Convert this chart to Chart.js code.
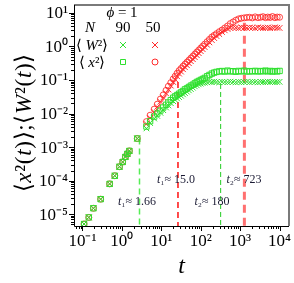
<!DOCTYPE html>
<html>
<head>
<meta charset="utf-8">
<script src="https://cdn.jsdelivr.net/npm/chart.js@4.4.1/dist/chart.umd.min.js"></script>
<style>
html, body { margin: 0; padding: 0; background: #fff; }
#wrap { width: 294px; height: 283px; position: relative; }
</style>
</head>
<body>
<div id="wrap"><canvas id="c"></canvas></div>
<script>
// time points (shared by all four series)
const times = [0.11, 0.145, 0.19, 0.29, 0.49, 0.66, 0.87, 1.05, 1.23, 1.38, 1.55, 2.46,
  4.2, 5.2, 6.6, 7.9, 9.5, 11.2, 13.2, 15.1, 17.4, 20, 22.4, 25.1, 28.2, 31.6, 35.5, 39.8,
  44.7, 50.1, 56.2, 63.1, 70.8, 79.4, 89.1, 100, 112, 126, 145, 166, 191, 219, 251, 295,
  347, 407, 479, 562, 661, 776, 912, 1070, 1260, 1480, 1740, 2040, 2400, 2820, 3310, 3800,
  4370, 5010, 5750, 6610, 7590, 8710, 10000];

// <W^2>, N = 90
const w2N90 = [5.1e-6, 8e-6, 1.5e-5, 2.8e-5, 8e-5, 1.4e-4, 2.6e-4, 3.6e-4, 5.1e-4, 6.3e-4, 7.7e-4, 1.8e-3,
  0.0036, 0.0052, 0.0071, 0.0085, 0.0105, 0.0126, 0.0151, 0.0174, 0.0204, 0.0234, 0.0257, 0.0282,
  0.0309, 0.0339, 0.0372, 0.0407, 0.0447, 0.049, 0.0537, 0.0589, 0.0646, 0.0692, 0.0741, 0.0776,
  0.0813, 0.0832, 0.085, 0.088, 0.086, 0.089, 0.087, 0.085, 0.088, 0.087, 0.086, 0.089, 0.087,
  0.085, 0.088, 0.086, 0.087, 0.089, 0.086, 0.088, 0.087, 0.085, 0.088, 0.087, 0.086, 0.089,
  0.087, 0.088, 0.086, 0.087, 0.088];
// <x^2>, N = 90
const x2N90 = [5.1e-6, 8e-6, 1.5e-5, 2.8e-5, 8e-5, 1.4e-4, 2.6e-4, 3.6e-4, 5.1e-4, 6.3e-4, 7.7e-4, 1.8e-3,
  0.0041, 0.0059, 0.0081, 0.0100, 0.0123, 0.0151, 0.0182, 0.0214, 0.0251, 0.0295, 0.0324, 0.0355,
  0.0389, 0.0427, 0.0468, 0.0525, 0.0562, 0.0617, 0.0676, 0.0724, 0.0794, 0.0871, 0.0933, 0.100,
  0.107, 0.115, 0.129, 0.141, 0.155, 0.166, 0.174, 0.18, 0.185, 0.178, 0.19, 0.18, 0.183, 0.176,
  0.186, 0.18, 0.19, 0.178, 0.184, 0.18, 0.187, 0.179, 0.185, 0.181, 0.19, 0.18, 0.186, 0.178,
  0.184, 0.18, 0.186];
// <W^2>, N = 50
const w2N50 = [5.1e-6, 8e-6, 1.5e-5, 2.8e-5, 8e-5, 1.4e-4, 2.6e-4, 3.6e-4, 5.1e-4, 6.3e-4, 7.7e-4, 1.8e-3,
  0.0049, 0.0074, 0.0112, 0.0158, 0.0224, 0.030, 0.040, 0.052, 0.068, 0.087, 0.105, 0.129,
  0.155, 0.178, 0.209, 0.24, 0.275, 0.316, 0.363, 0.417, 0.479, 0.55, 0.63, 0.724, 0.83, 0.955,
  1.12, 1.32, 1.55, 1.78, 2.04, 2.34, 2.69, 3.02, 3.31, 3.55, 3.63, 3.6, 3.5, 3.7, 3.6, 3.55,
  3.65, 3.6, 3.5, 3.7, 3.6, 3.55, 3.6, 3.65, 3.5, 3.6, 3.7, 3.6, 3.55];
// <x^2>, N = 50
const x2N50 = [5.1e-6, 8e-6, 1.5e-5, 2.8e-5, 8e-5, 1.4e-4, 2.6e-4, 3.6e-4, 5.1e-4, 6.3e-4, 7.7e-4, 1.8e-3,
  0.00575, 0.0089, 0.0135, 0.019, 0.027, 0.036, 0.049, 0.065, 0.083, 0.107, 0.129, 0.158,
  0.19, 0.219, 0.257, 0.295, 0.339, 0.389, 0.447, 0.513, 0.589, 0.676, 0.776, 0.891, 1.02, 1.17,
  1.38, 1.62, 1.91, 2.14, 2.40, 2.75, 3.09, 3.55, 4.07, 4.79, 5.37, 6.03, 6.61, 6.92, 7.1, 7.3,
  7.4, 7.1, 7.6, 7.2, 7.4, 7.7, 7.2, 7.5, 7.3, 7.8, 7.2, 7.5, 7.4];

// crossover times (vertical dashed markers)
const markTimes = [2.8, 26.5, 320, 1280];
const markTops = [0.0018, 0.087, 0.076, 5.1];
const markLabels = ['1.66', '15.0', '180', '723'];

const xTicks = [0.1, 1, 10, 100, 1000, 10000];
const xTickLabels = ['10⁻¹', '10⁰', '10¹', '10²', '10³', '10⁴'];
const yTicks = [1e-5, 1e-4, 1e-3, 1e-2, 1e-1, 1, 10];
const yTickLabels = ['10⁻⁵', '10⁻⁴', '10⁻³', '10⁻²', '10⁻¹', '10⁰', '10¹'];

const GREEN = '#2fe02f';
const RED = '#ff2a2a';
const SERIF = '"Liberation Serif", "Times New Roman", serif';

function pts(arr) { return times.map((t, i) => ({ x: t, y: arr[i] })); }

const Y_MIN = 4.44e-6;

function markLine(i, color, width, dash) {
  return {
    type: 'line', data: [{ x: markTimes[i], y: markTops[i] }, { x: markTimes[i], y: Y_MIN }],
    borderColor: color, borderWidth: width, borderDash: dash, pointRadius: 0, fill: false
  };
}

// draw a string made of [text, italic] pieces
function rich(ctx, parts, x, y, size, color, spacing, align) {
  spacing = spacing || 0;
  const fontOf = it => (it ? 'italic ' : '') + size + 'px ' + SERIF;
  let w = 0;
  parts.forEach(p => { ctx.font = fontOf(p[1]); w += ctx.measureText(p[0]).width; });
  w += spacing * (parts.length - 1);
  let cx = align === 'right' ? x - w : x - w / 2;
  ctx.fillStyle = color;
  ctx.textBaseline = 'middle';
  ctx.textAlign = 'left';
  parts.forEach(p => {
    ctx.font = fontOf(p[1]);
    ctx.fillText(p[0], cx, y);
    cx += ctx.measureText(p[0]).width + spacing;
  });
}

const deco = {
  id: 'deco',
  afterDraw(chart) {
    const { ctx, chartArea: a, scales: { x, y } } = chart;
    ctx.save();
    // frame: grey top/right, black axes
    ctx.strokeStyle = '#7a7a7a'; ctx.lineWidth = 2;
    ctx.beginPath(); ctx.moveTo(a.left, a.top); ctx.lineTo(a.right, a.top); ctx.lineTo(a.right, a.bottom); ctx.stroke();
    ctx.strokeStyle = '#000'; ctx.lineWidth = 1;
    ctx.beginPath();
    ctx.moveTo(a.left + 0.5, a.top); ctx.lineTo(a.left + 0.5, a.bottom + 0.5); ctx.lineTo(a.right, a.bottom + 0.5);
    // outward ticks, major + minor
    for (let e = -2; e <= 4; e++) for (let k = 1; k < 10; k++) {
      const v = k * Math.pow(10, e);
      if (v < x.min || v > x.max) continue;
      const px = Math.round(x.getPixelForValue(v)) + 0.5;
      ctx.moveTo(px, a.bottom); ctx.lineTo(px, a.bottom + (k === 1 ? 5 : 3));
    }
    for (let e = -6; e <= 1; e++) for (let k = 1; k < 10; k++) {
      const v = k * Math.pow(10, e);
      if (v < y.min || v > y.max) continue;
      const py = Math.round(y.getPixelForValue(v)) + 0.5;
      ctx.moveTo(a.left, py); ctx.lineTo(a.left - (k === 1 ? 5 : 3), py);
    }
    ctx.stroke();

    // tick labels
    xTicks.forEach((v, i) => rich(ctx, [[xTickLabels[i], 0]], x.getPixelForValue(v), 242, 17, '#000'));
    yTicks.forEach((v, i) => rich(ctx, [[yTickLabels[i], 0]], a.left - 6, y.getPixelForValue(v) + 1, 17, '#000', 0, 'right'));

    // axis titles
    ctx.save();
    ctx.translate(25, 123); ctx.rotate(-Math.PI / 2);
    rich(ctx, [['⟨', 0], ['x', 1], ['²', 0], ['(', 0], ['t', 1], [')', 0], ['⟩', 0], [';', 0],
      ['⟨', 0], ['W', 1], ['²', 0], ['(', 0], ['t', 1], [')', 0], ['⟩', 0]], 0, 0, 23, '#000', 0.7);
    ctx.restore();
    rich(ctx, [['t', 1]], (a.left + a.right) / 2, 267, 24, '#000');

    // legend block
    rich(ctx, [['ϕ', 1], [' = 1', 0]], 122, 13, 15, '#000');
    rich(ctx, [['N', 1]], 90, 28, 15, '#000');
    rich(ctx, [['90', 0]], 123, 28, 15, '#000');
    rich(ctx, [['50', 0]], 153, 28, 15, '#000');
    rich(ctx, [['⟨ ', 0], ['W', 1], ['²', 0], ['⟩', 0]], 92, 46, 15, '#000');
    rich(ctx, [['⟨ ', 0], ['x', 1], ['²', 0], ['⟩', 0]], 92, 63, 15, '#000');
    ctx.lineWidth = 1;
    ctx.strokeStyle = GREEN;
    ctx.beginPath();
    ctx.moveTo(120, 42); ctx.lineTo(126, 48); ctx.moveTo(126, 42); ctx.lineTo(120, 48);
    ctx.rect(120.5, 59.5, 5, 5);
    ctx.stroke();
    ctx.strokeStyle = RED;
    ctx.beginPath();
    ctx.moveTo(152, 42); ctx.lineTo(158, 48); ctx.moveTo(158, 42); ctx.lineTo(152, 48);
    ctx.moveTo(158, 62); ctx.arc(155, 62, 3, 0, Math.PI * 2);
    ctx.stroke();

    // crossover labels
    const lab = [[137, 202, '₁'], [176, 180, '₁'], [212, 202, '₂'], [244, 180, '₂']];
    lab.forEach((l, i) => rich(ctx, [['t', 1], [l[2] + '≈ ' + markLabels[i], 0]], l[0], l[1], 12, '#1a1a33'));
    ctx.restore();
  }
};

const xs = { pointBorderWidth: 1, backgroundColor: 'rgba(0,0,0,0)', showLine: false };

new Chart(document.getElementById('c'), {
  type: 'scatter',
  data: {
    datasets: [
      Object.assign({ data: pts(w2N90), pointStyle: 'crossRot', pointRadius: 4, borderColor: GREEN }, xs),
      Object.assign({ data: pts(x2N90), pointStyle: 'rect', pointRadius: 3.8, borderColor: GREEN }, xs),
      Object.assign({ data: pts(w2N50), pointStyle: 'crossRot', pointRadius: 4, borderColor: RED }, xs),
      Object.assign({ data: pts(x2N50), pointStyle: 'circle', pointRadius: 3, borderColor: 'rgba(255,40,40,0.85)' }, xs),
      markLine(0, '#55ee55', 1.5, [6, 4]),
      markLine(1, '#ff1010', 1.5, [6, 4]),
      markLine(2, '#22cc22', 1, [5, 3]),
      markLine(3, '#ff7070', 3, [8, 5])
    ]
  },
  options: {
    responsive: true,
    maintainAspectRatio: false,
    animation: false,
    layout: { padding: { top: 2, right: 3, left: 0, bottom: 0 } },
    plugins: { legend: { display: false }, tooltip: { enabled: false } },
    scales: {
      x: {
        type: 'logarithmic', min: 0.0611, max: 17330,
        afterFit: s => { s.height = 57; },
        grid: { display: false, drawTicks: false },
        border: { display: false },
        ticks: { display: false }
      },
      y: {
        type: 'logarithmic', min: Y_MIN, max: 17.18,
        afterFit: s => { s.width = 74; },
        grid: { display: false, drawTicks: false },
        border: { display: false },
        ticks: { display: false }
      }
    }
  },
  plugins: [deco]
});
</script>
</body>
</html>
